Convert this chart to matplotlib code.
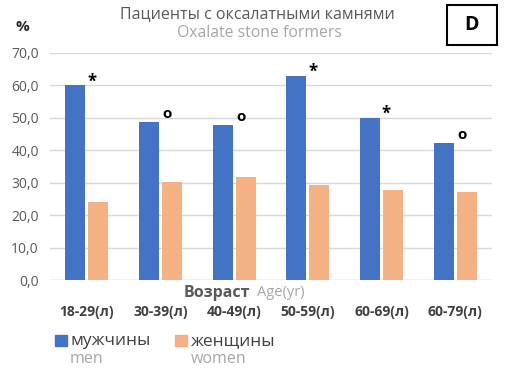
import matplotlib
matplotlib.use("Agg")
import matplotlib.pyplot as plt
from matplotlib.patches import Rectangle
import numpy as np

plt.rcParams['font.family'] = ['Open Sans', 'DejaVu Sans']

# data
categories = ["18-29(л)", "30-39(л)", "40-49(л)", "50-59(л)", "60-69(л)", "60-79(л)"]
men = [60.0, 48.8, 47.9, 63.0, 50.0, 42.4]
women = [23.9, 30.1, 31.7, 29.4, 27.8, 27.0]
marks = ["*", "o", "o", "*", "*", "o"]
yticks = [0, 10, 20, 30, 40, 50, 60, 70]

BLUE = "#4472c4"
ORANGE = "#f4b183"
GRAY = "#595959"
DARK = "#404040"
LIGHT = "#a6a6a6"

fig = plt.figure(figsize=(5.09, 3.69), dpi=100)
ax = fig.add_axes([50/509, 1-280/369, 442/509, 227/369])

x = np.arange(len(categories))
w = 0.27
ax.bar(x - 0.155, men, w, color=BLUE, zorder=3)
ax.bar(x + 0.155, women, w, color=ORANGE, zorder=3)

# significance markers
for xi, v, m in zip(x, men, marks):
    if m == "*":
        ax.annotate("*", (xi - 0.155 + w/2, v), xytext=(4.5, 3), textcoords="offset points",
                    ha="center", va="center", fontsize=12, fontweight="bold", color="black")
    else:
        ax.annotate("o", (xi - 0.155 + w/2, v), xytext=(6, 5.5), textcoords="offset points",
                    ha="center", va="center", fontsize=11, fontweight="bold", color="black")

ax.set_xlim(-0.5, len(categories) - 0.5)
ax.set_ylim(0, 70)
ax.set_yticks(yticks)
ax.set_yticklabels([f"{t:.1f}".replace(".", ",") for t in yticks], color=GRAY, fontsize=10)
ax.yaxis.grid(True, color="#d9d9d9", linewidth=1, zorder=0)
ax.set_xticks(x)
ax.set_xticklabels(categories, fontsize=10, fontweight="bold", color=DARK)
ax.tick_params(axis="x", length=0, pad=18)
ax.tick_params(axis="y", length=0, pad=8)
for s in ax.spines.values():
    s.set_visible(False)
ax.axhline(0, color="#d9d9d9", linewidth=1, zorder=2)

# titles
fig.text(257/509, 1-14/369, "Пациенты с оксалатными камнями", ha="center", va="center",
         fontsize=11.5, color=GRAY)
fig.text(259/509, 1-33/369, "Oxalate stone formers", ha="center", va="center",
         fontsize=11.3, color=LIGHT)
fig.text(22/509, 1-27/369, "%", ha="center", va="center", fontsize=11, fontweight="bold",
         color="#262626")

# panel letter box
fig.patches.append(Rectangle((447/509, 1-45/369), 50/509, 40/369, transform=fig.transFigure,
                             fill=False, edgecolor="black", linewidth=1.5))
fig.text(472/509, 1-25/369, "D", ha="center", va="center", fontsize=14, fontweight="bold")

# axis title
fig.text(250/509, 1-293/369, "Возраст", ha="right", va="center", fontsize=11.5,
         fontweight="bold", color=GRAY)
fig.text(257/509, 1-293/369, "Age(yr)", ha="left", va="center", fontsize=10.5, color=LIGHT)

# legend
fig.patches.append(Rectangle((55/509, 1-346/369), 12/509, 11/369, transform=fig.transFigure,
                             color=BLUE))
fig.text(70/509, 1-345/369, "мужчины", ha="left", va="baseline", fontsize=12.5, color=DARK)
fig.text(70/509, 1-363/369, "men", ha="left", va="baseline", fontsize=11.5, color=LIGHT)
fig.patches.append(Rectangle((175/509, 1-346/369), 12/509, 11/369, transform=fig.transFigure,
                             color=ORANGE))
fig.text(191/509, 1-345/369, "женщины", ha="left", va="baseline", fontsize=12.5, color=DARK)
fig.text(191/509, 1-363/369, "women", ha="left", va="baseline", fontsize=11.5, color=LIGHT)

fig.savefig("out.png", dpi=100)
